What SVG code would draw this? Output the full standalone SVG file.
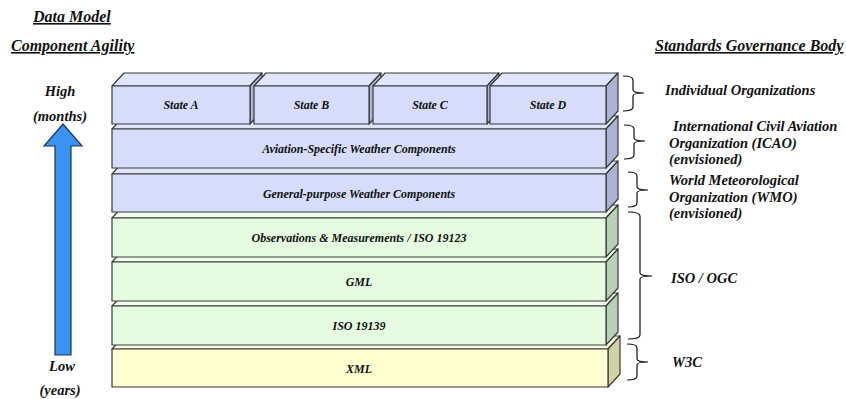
<svg xmlns="http://www.w3.org/2000/svg" width="846" height="399" viewBox="0 0 846 399">
<defs>
<style>
text{font-family:"Liberation Serif","Times New Roman",serif;font-weight:bold;font-style:italic;fill:#111;}
.title{font-size:16px;text-decoration:underline;}
.lbl{font-size:12px;text-anchor:middle;}
.side{font-size:14.5px;}
.mid{font-size:14.5px;text-anchor:middle;}
.box path{stroke:#3a3a3a;stroke-width:1.2;stroke-linejoin:round;}
.blue .f{fill:#D6DCFA;} .blue .t{fill:#E0E5FC;} .blue .s{fill:#ADB3D6;}
.green .f{fill:#E5FCE1;} .green .t{fill:#EEFDEB;} .green .s{fill:#B9CFB7;}
.yellow .f{fill:#FFFFCF;} .yellow .t{fill:#FFFFE0;} .yellow .s{fill:#D2D1A3;}
.brace{fill:none;stroke:#111;stroke-width:1.2;}
</style>
</defs>
<rect width="846" height="399" fill="#fff"/>

<text class="title" x="33" y="22">Data Model</text>
<text class="title" x="11" y="51">Component Agility</text>
<text class="title" x="655" y="51">Standards Governance Body</text>

<g id="agility-arrow">
<path d="M63,124 L82,146 L71,146 L71,355 L55,355 L55,146 L44,146 Z" fill="#3A93F2" stroke="#1d3550" stroke-width="1.2"/>
<text class="mid" x="60" y="96">High</text>
<text class="mid" x="60" y="121">(months)</text>
<text class="mid" x="62" y="371">Low</text>
<text class="mid" x="60" y="395">(years)</text>
</g>

<g id="layer-xml" class="box yellow">
<path class="t" d="M112,349 L124,336 L620,336 L608,349 Z"/>
<path class="s" d="M608,349 L620,336 L620,374 L608,387 Z"/>
<path class="f" d="M112,349 H608 V387 H112 Z"/>
<text class="lbl" x="359" y="372.5">XML</text>
</g>
<g id="layer-iso19139" class="box green">
<path class="t" d="M112,306 L124,293 L618,293 L606,306 Z"/>
<path class="s" d="M606,306 L618,293 L618,332 L606,345 Z"/>
<path class="f" d="M112,306 H606 V345 H112 Z"/>
<text class="lbl" x="359" y="330">ISO 19139</text>
</g>
<g id="layer-gml" class="box green">
<path class="t" d="M112,262 L124,249 L618,249 L606,262 Z"/>
<path class="s" d="M606,262 L618,249 L618,288 L606,301 Z"/>
<path class="f" d="M112,262 H606 V301 H112 Z"/>
<text class="lbl" x="359" y="286">GML</text>
</g>
<g id="layer-om" class="box green">
<path class="t" d="M112,218 L124,205 L618,205 L606,218 Z"/>
<path class="s" d="M606,218 L618,205 L618,244 L606,257 Z"/>
<path class="f" d="M112,218 H606 V257 H112 Z"/>
<text class="lbl" x="359" y="242">Observations &amp; Measurements / ISO 19123</text>
</g>
<g id="layer-general" class="box blue">
<path class="t" d="M112,174 L124,161 L618,161 L606,174 Z"/>
<path class="s" d="M606,174 L618,161 L618,199 L606,212 Z"/>
<path class="f" d="M112,174 H606 V212 H112 Z"/>
<text class="lbl" x="359" y="197.5">General-purpose Weather Components</text>
</g>
<g id="layer-aviation" class="box blue">
<path class="t" d="M112,129 L124,116 L618,116 L606,129 Z"/>
<path class="s" d="M606,129 L618,116 L618,155 L606,168 Z"/>
<path class="f" d="M112,129 H606 V168 H112 Z"/>
<text class="lbl" x="359" y="153">Aviation-Specific Weather Components</text>
</g>
<g id="state-a" class="box blue">
<path class="t" d="M112,86 L124,73 L262,73 L250,86 Z"/>
<path class="s" d="M250,86 L262,73 L262,111 L250,124 Z"/>
<path class="f" d="M112,86 H250 V124 H112 Z"/>
<text class="lbl" x="181" y="109">State A</text>
</g>
<g id="state-b" class="box blue">
<path class="t" d="M254,86 L266,73 L381,73 L369,86 Z"/>
<path class="s" d="M369,86 L381,73 L381,111 L369,124 Z"/>
<path class="f" d="M254,86 H369 V124 H254 Z"/>
<text class="lbl" x="311.5" y="109">State B</text>
</g>
<g id="state-c" class="box blue">
<path class="t" d="M373,86 L385,73 L499,73 L487,86 Z"/>
<path class="s" d="M487,86 L499,73 L499,111 L487,124 Z"/>
<path class="f" d="M373,86 H487 V124 H373 Z"/>
<text class="lbl" x="430" y="109">State C</text>
</g>
<g id="state-d" class="box blue">
<path class="t" d="M490,86 L502,73 L618,73 L606,86 Z"/>
<path class="s" d="M606,86 L618,73 L618,111 L606,124 Z"/>
<path class="f" d="M490,86 H606 V124 H490 Z"/>
<text class="lbl" x="548" y="109">State D</text>
</g>

<g id="braces">
<path class="brace" d="M623,76 Q633,76 633,80 L633,90 Q633,93 644,93 Q633,93 633,96 L633,107 Q633,111 623,111"/>
<path class="brace" d="M624,125 Q634,125 634,129 L634,138 Q634,141 645,141 Q634,141 634,144 L634,155 Q634,159 624,159"/>
<path class="brace" d="M628,172 Q637,172 637,176 L637,187 Q637,190 648,190 Q637,190 637,193 L637,203 Q637,207 628,207"/>
<path class="brace" d="M628,212 Q640,212 640,216 L640,273 Q640,276 652,276 Q640,276 640,279 L640,335 Q640,339 628,339"/>
<path class="brace" d="M627,344 Q637,344 637,348 L637,359 Q637,362 648,362 Q637,362 637,365 L637,376 Q637,380 627,380"/>
</g>

<g id="bodies">
<text class="side" x="665" y="95">Individual Organizations</text>
<text class="side" x="673" y="131">International Civil Aviation</text>
<text class="side" x="669" y="148">Organization (ICAO)</text>
<text class="side" x="669" y="164">(envisioned)</text>
<text class="side" x="669" y="185">World Meteorological</text>
<text class="side" x="669" y="202">Organization (WMO)</text>
<text class="side" x="669" y="218">(envisioned)</text>
<text class="side" x="671" y="283">ISO / OGC</text>
<text class="side" x="672" y="367">W3C</text>
</g>
</svg>
